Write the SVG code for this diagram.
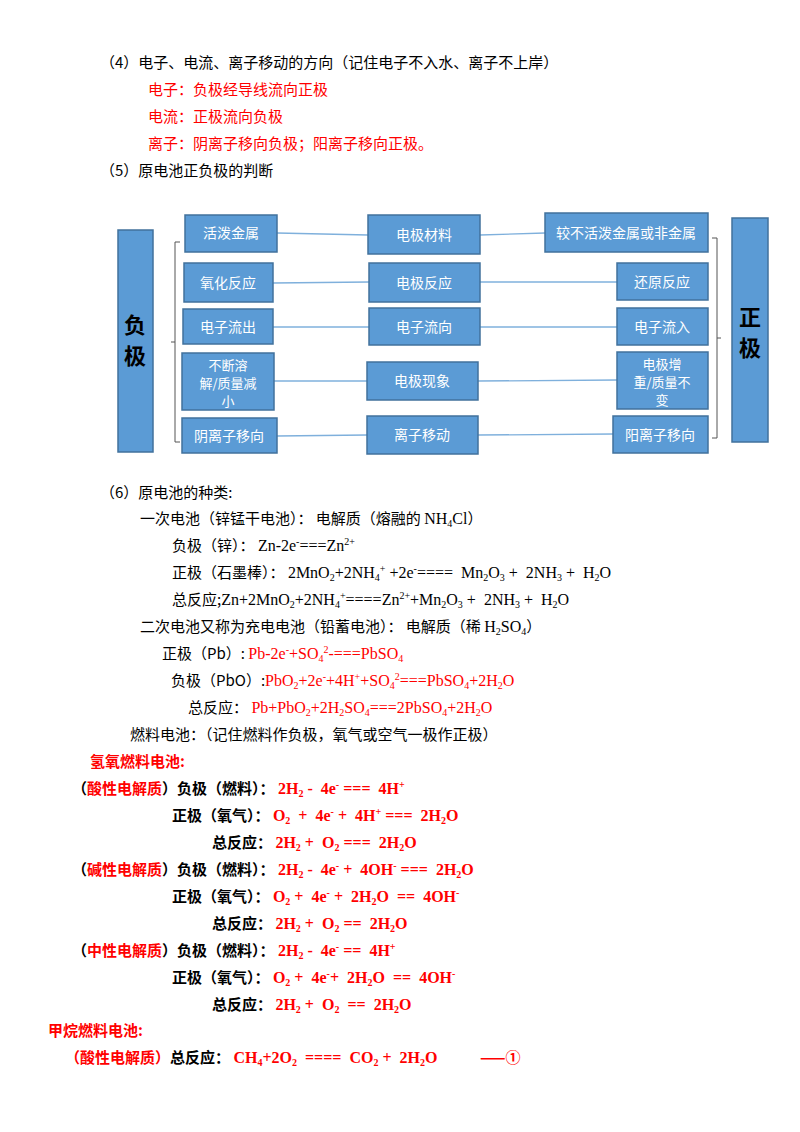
<svg xmlns="http://www.w3.org/2000/svg" width="800" height="1132" viewBox="0 0 800 1132">
<style>
text{font-family:"Noto Sans CJK SC","Liberation Sans",sans-serif;font-size:15px;fill:#000;white-space:pre}
.r{fill:#ff0000}
.b{font-weight:bold}
.f{font-family:"Liberation Serif","Noto Sans CJK SC",serif;font-size:16px}
.bx{fill:#5b9bd5;stroke:#41719c;stroke-width:1.5}
.bt{fill:#fff;font-size:14px;text-anchor:middle}
.bs{fill:#fff;font-size:13px;text-anchor:middle}
.big{fill:#000;font-size:22px;font-weight:bold;text-anchor:middle}
.ln{stroke:#7fb0dc;stroke-width:1.3;fill:none}
.br{stroke:#555;stroke-width:1;fill:none}
</style>
<rect width="800" height="1132" fill="#fff"/>
<text x="100" y="68">（4）电子、电流、离子移动的方向（记住电子不入水、离子不上岸）</text>
<text x="148" y="95" class="r">电子：负极经导线流向正极</text>
<text x="148" y="122" class="r">电流：正极流向负极</text>
<text x="148" y="149" class="r">离子：阴离子移向负极；阳离子移向正极。</text>
<text x="100" y="176">（5）原电池正负极的判断</text>

<g id="connectors">
<line class="ln" x1="277" y1="233" x2="368" y2="235"/><line class="ln" x1="480" y1="235" x2="545" y2="233"/>
<line class="ln" x1="273" y1="283" x2="369" y2="282"/><line class="ln" x1="480" y1="282" x2="617" y2="282"/>
<line class="ln" x1="273" y1="327" x2="369" y2="327"/><line class="ln" x1="480" y1="327" x2="617" y2="327"/>
<line class="ln" x1="274" y1="381" x2="367" y2="381"/><line class="ln" x1="478" y1="381" x2="617" y2="380"/>
<line class="ln" x1="277" y1="436" x2="367" y2="435"/><line class="ln" x1="478" y1="435" x2="613" y2="434"/>
<path class="br" d="M180 242 H175 V442 H180 M175 342 H171"/>
<path class="br" d="M712 238 H717 V438 H712 M717 338 H721"/>
</g>
<g id="neg"><rect class="bx" x="118" y="230" width="35" height="222"/><text class="big" x="135" y="333">负</text><text class="big" x="135" y="364">极</text></g>
<g id="pos"><rect class="bx" x="732" y="218" width="36" height="224"/><text class="big" x="750" y="325">正</text><text class="big" x="750" y="356">极</text></g>
<g id="n1"><rect class="bx" x="185" y="215" width="92" height="37"/><text class="bt" x="231" y="238">活泼金属</text></g>
<g id="n2"><rect class="bx" x="368" y="215" width="112" height="39"/><text class="bt" x="424" y="240">电极材料</text></g>
<g id="n3"><rect class="bx" x="545" y="213" width="163" height="39"/><text class="bt" x="626" y="238">较不活泼金属或非金属</text></g>
<g id="n4"><rect class="bx" x="184" y="263" width="89" height="39"/><text class="bt" x="228" y="288">氧化反应</text></g>
<g id="n5"><rect class="bx" x="369" y="263" width="111" height="39"/><text class="bt" x="424" y="288">电极反应</text></g>
<g id="n6"><rect class="bx" x="617" y="263" width="91" height="37"/><text class="bt" x="662" y="287">还原反应</text></g>
<g id="n7"><rect class="bx" x="183" y="309" width="90" height="35"/><text class="bt" x="228" y="332">电子流出</text></g>
<g id="n8"><rect class="bx" x="369" y="308" width="111" height="37"/><text class="bt" x="424" y="332">电子流向</text></g>
<g id="n9"><rect class="bx" x="617" y="308" width="91" height="37"/><text class="bt" x="662" y="332">电子流入</text></g>
<g id="n10"><rect class="bx" x="182" y="353" width="92" height="57"/><text class="bs" x="228" y="370">不断溶</text><text class="bs" x="228" y="388">解/质量减</text><text class="bs" x="228" y="406">小</text></g>
<g id="n11"><rect class="bx" x="367" y="362" width="111" height="38"/><text class="bt" x="422" y="386">电极现象</text></g>
<g id="n12"><rect class="bx" x="617" y="352" width="91" height="57"/><text class="bs" x="662" y="369">电极增</text><text class="bs" x="662" y="387">重/质量不</text><text class="bs" x="662" y="405">变</text></g>
<g id="n13"><rect class="bx" x="182" y="418" width="95" height="35"/><text class="bt" x="229" y="441">阴离子移向</text></g>
<g id="n14"><rect class="bx" x="367" y="416" width="111" height="38"/><text class="bt" x="422" y="440">离子移动</text></g>
<g id="n15"><rect class="bx" x="613" y="416" width="95" height="37"/><text class="bt" x="660" y="440">阳离子移向</text></g>

<text x="100" y="498">（6）原电池的种类:</text>
<text x="140" y="524">一次电池（锌锰干电池）： 电解质（熔融的 <tspan class="f">NH<tspan font-size="10" dy="3">4</tspan><tspan dy="-3">Cl</tspan></tspan>）</text>
<text x="172" y="551">负极（锌）： <tspan class="f">Zn-2e<tspan font-size="10" dy="-6">-</tspan><tspan dy="6">===Zn</tspan><tspan font-size="10" dy="-6">2+</tspan></tspan></text>
<text x="172" y="578">正极（石墨棒）： <tspan class="f">2MnO<tspan font-size="10" dy="3">2</tspan><tspan dy="-3">+2NH</tspan><tspan font-size="10" dy="3">4</tspan><tspan font-size="10" dy="-9">+</tspan><tspan dy="6"> +2e</tspan><tspan font-size="10" dy="-6">-</tspan><tspan dy="6">====  Mn</tspan><tspan font-size="10" dy="3">2</tspan><tspan dy="-3">O</tspan><tspan font-size="10" dy="3">3</tspan><tspan dy="-3"> +  2NH</tspan><tspan font-size="10" dy="3">3</tspan><tspan dy="-3"> +  H</tspan><tspan font-size="10" dy="3">2</tspan><tspan dy="-3">O</tspan></tspan></text>
<text x="172" y="605">总反应;<tspan class="f">Zn+2MnO<tspan font-size="10" dy="3">2</tspan><tspan dy="-3">+2NH</tspan><tspan font-size="10" dy="3">4</tspan><tspan font-size="10" dy="-9">+</tspan><tspan dy="6">====Zn</tspan><tspan font-size="10" dy="-6">2+</tspan><tspan dy="6">+Mn</tspan><tspan font-size="10" dy="3">2</tspan><tspan dy="-3">O</tspan><tspan font-size="10" dy="3">3</tspan><tspan dy="-3"> +  2NH</tspan><tspan font-size="10" dy="3">3</tspan><tspan dy="-3"> +  H</tspan><tspan font-size="10" dy="3">2</tspan><tspan dy="-3">O</tspan></tspan></text>
<text x="140" y="632">二次电池又称为充电电池（铅蓄电池）： 电解质（稀 <tspan class="f">H<tspan font-size="10" dy="3">2</tspan><tspan dy="-3">SO</tspan><tspan font-size="10" dy="3">4</tspan></tspan><tspan dy="-3">）</tspan></text>
<text x="162" y="659">正极（Pb）: <tspan class="f r">Pb-2e<tspan font-size="10" dy="-6">-</tspan><tspan dy="6">+SO</tspan><tspan font-size="10" dy="3">4</tspan><tspan font-size="10" dy="-9">2</tspan><tspan dy="6">-===PbSO</tspan><tspan font-size="10" dy="3">4</tspan></tspan></text>
<text x="171" y="686">负极（PbO）:<tspan class="f r">PbO<tspan font-size="10" dy="3">2</tspan><tspan dy="-3">+2e</tspan><tspan font-size="10" dy="-6">-</tspan><tspan dy="6">+4H</tspan><tspan font-size="10" dy="-6">+</tspan><tspan dy="6">+SO</tspan><tspan font-size="10" dy="3">4</tspan><tspan font-size="10" dy="-9">2</tspan><tspan dy="6">===PbSO</tspan><tspan font-size="10" dy="3">4</tspan><tspan dy="-3">+2H</tspan><tspan font-size="10" dy="3">2</tspan><tspan dy="-3">O</tspan></tspan></text>
<text x="188" y="713">总反应： <tspan class="f r">Pb+PbO<tspan font-size="10" dy="3">2</tspan><tspan dy="-3">+2H</tspan><tspan font-size="10" dy="3">2</tspan><tspan dy="-3">SO</tspan><tspan font-size="10" dy="3">4</tspan><tspan dy="-3">===2PbSO</tspan><tspan font-size="10" dy="3">4</tspan><tspan dy="-3">+2H</tspan><tspan font-size="10" dy="3">2</tspan><tspan dy="-3">O</tspan></tspan></text>
<text x="130" y="740">燃料电池：（记住燃料作负极，氧气或空气一极作正极）</text>

<g class="b">
<text x="90" y="767" class="r b">氢氧燃料电池:</text>
<text x="72" y="794">（<tspan class="r">酸性电解质</tspan>）负极（燃料）： <tspan class="f r">2H<tspan font-size="10" dy="3">2</tspan><tspan dy="-3"> -  4e</tspan><tspan font-size="10" dy="-6">-</tspan><tspan dy="6"> ===  4H</tspan><tspan font-size="10" dy="-6">+</tspan></tspan></text>
<text x="172" y="821">正极（氧气）： <tspan class="f r">O<tspan font-size="10" dy="3">2</tspan><tspan dy="-3">  +  4e</tspan><tspan font-size="10" dy="-6">-</tspan><tspan dy="6"> +  4H</tspan><tspan font-size="10" dy="-6">+</tspan><tspan dy="6"> ===  2H</tspan><tspan font-size="10" dy="3">2</tspan><tspan dy="-3">O</tspan></tspan></text>
<text x="212" y="848">总反应： <tspan class="f r">2H<tspan font-size="10" dy="3">2</tspan><tspan dy="-3"> +  O</tspan><tspan font-size="10" dy="3">2</tspan><tspan dy="-3"> ===  2H</tspan><tspan font-size="10" dy="3">2</tspan><tspan dy="-3">O</tspan></tspan></text>
<text x="72" y="875">（<tspan class="r">碱性电解质</tspan>）负极（燃料）： <tspan class="f r">2H<tspan font-size="10" dy="3">2</tspan><tspan dy="-3"> -  4e</tspan><tspan font-size="10" dy="-6">-</tspan><tspan dy="6"> +  4OH</tspan><tspan font-size="10" dy="-6">-</tspan><tspan dy="6"> ===  2H</tspan><tspan font-size="10" dy="3">2</tspan><tspan dy="-3">O</tspan></tspan></text>
<text x="172" y="902">正极（氧气）： <tspan class="f r">O<tspan font-size="10" dy="3">2</tspan><tspan dy="-3"> +  4e</tspan><tspan font-size="10" dy="-6">-</tspan><tspan dy="6"> +  2H</tspan><tspan font-size="10" dy="3">2</tspan><tspan dy="-3">O  ==  4OH</tspan><tspan font-size="10" dy="-6">-</tspan></tspan></text>
<text x="212" y="929">总反应： <tspan class="f r">2H<tspan font-size="10" dy="3">2</tspan><tspan dy="-3"> +  O</tspan><tspan font-size="10" dy="3">2</tspan><tspan dy="-3"> ==  2H</tspan><tspan font-size="10" dy="3">2</tspan><tspan dy="-3">O</tspan></tspan></text>
<text x="72" y="956">（<tspan class="r">中性电解质</tspan>）负极（燃料）： <tspan class="f r">2H<tspan font-size="10" dy="3">2</tspan><tspan dy="-3"> -  4e</tspan><tspan font-size="10" dy="-6">-</tspan><tspan dy="6"> ==  4H</tspan><tspan font-size="10" dy="-6">+</tspan></tspan></text>
<text x="172" y="983">正极（氧气）： <tspan class="f r">O<tspan font-size="10" dy="3">2</tspan><tspan dy="-3"> +  4e</tspan><tspan font-size="10" dy="-6">-</tspan><tspan dy="6">+  2H</tspan><tspan font-size="10" dy="3">2</tspan><tspan dy="-3">O  ==  4OH</tspan><tspan font-size="10" dy="-6">-</tspan></tspan></text>
<text x="212" y="1010">总反应： <tspan class="f r">2H<tspan font-size="10" dy="3">2</tspan><tspan dy="-3"> +  O</tspan><tspan font-size="10" dy="3">2</tspan><tspan dy="-3">  ==  2H</tspan><tspan font-size="10" dy="3">2</tspan><tspan dy="-3">O</tspan></tspan></text>
<text x="48" y="1036" class="r b">甲烷燃料电池:</text>
<text x="65" y="1063"><tspan class="r">（酸性电解质）</tspan>总反应： <tspan class="f r">CH<tspan font-size="10" dy="3">4</tspan><tspan dy="-3">+2O</tspan><tspan font-size="10" dy="3">2</tspan><tspan dy="-3">  ====  CO</tspan><tspan font-size="10" dy="3">2</tspan><tspan dy="-3"> +  2H</tspan><tspan font-size="10" dy="3">2</tspan><tspan dy="-3">O</tspan></tspan></text>
<text x="480" y="1063" class="r">——①</text>
</g>
</svg>
